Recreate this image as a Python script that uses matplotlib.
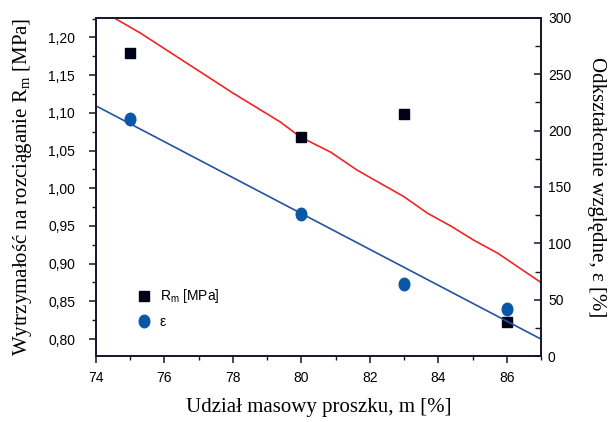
import numpy as np
import matplotlib.pyplot as plt
from matplotlib.ticker import MultipleLocator, FuncFormatter
from matplotlib.path import Path
from matplotlib.transforms import Affine2D

plt.rcParams['mathtext.fontset'] = 'custom'
plt.rcParams['mathtext.rm'] = 'Liberation Serif'
plt.rcParams['mathtext.sf'] = 'Liberation Sans'

# Data
m = [75, 80, 83, 86]                      # powder mass share [%]
rm = [1.180, 1.068, 1.099, 0.822]         # tensile strength [MPa]
eps = [210, 126, 64, 42]                  # relative strain [%]

# red trend line (left axis)
red_x = [74.30, 75.29, 78.01, 79.38, 79.97, 80.85, 81.63, 82.21, 82.99,
         83.68, 84.36, 85.04, 85.73, 87.0]
red_y = [1.232, 1.206, 1.126, 1.088, 1.068, 1.048, 1.024, 1.009, 0.989,
         0.967, 0.950, 0.931, 0.914, 0.875]
# blue trend line (right axis)
blue_x = [74, 87]
blue_y = [222, 15]

navy = '#14142a'
sq_col = '#000018'
dot_col = '#0a57a8'

fig = plt.figure(figsize=(6.12, 4.22), dpi=100)
ax = fig.add_axes([96/612, 66/422, 445/612, 338/422])
ax2 = ax.twinx()

ax.plot(red_x, red_y, color='#f02525', lw=1.2, zorder=2)
ax2.plot(blue_x, blue_y, color='#2452a0', lw=1.2, zorder=2)

ell = Path.unit_circle().transformed(Affine2D().scale(0.85, 1.0))
h1, = ax.plot(m, rm, ls='none', marker='s', ms=7.7, color=sq_col, zorder=3)
h2, = ax2.plot(m, eps, ls='none', marker=ell, ms=9, color=dot_col, zorder=3)

ax.set_xlim(74, 87)
ax.set_ylim(0.7775, 1.2258)
ax2.set_ylim(0, 300)

ax.xaxis.set_major_locator(MultipleLocator(2))
ax.xaxis.set_minor_locator(MultipleLocator(1))
ax.yaxis.set_major_locator(MultipleLocator(0.05))
ax.yaxis.set_minor_locator(MultipleLocator(0.025))
ax2.yaxis.set_major_locator(MultipleLocator(50))
ax2.yaxis.set_minor_locator(MultipleLocator(25))

ax.yaxis.set_major_formatter(FuncFormatter(lambda v, p: f"{v:.2f}".replace('.', ',')))

for a in (ax, ax2):
    for s in a.spines.values():
        s.set_color(navy)
        s.set_linewidth(1.2)

ax.tick_params(axis='x', which='major', direction='out', length=5, width=1.1,
               color=navy, labelsize=10, pad=6)
ax.tick_params(axis='y', which='major', direction='out', length=5, width=1.1,
               color=navy, labelsize=10, pad=10)
ax.tick_params(axis='both', which='minor', direction='out', length=3, width=1.0, color=navy)
ax2.tick_params(axis='y', which='major', direction='in', length=5, width=1.1,
                color=navy, labelsize=10, pad=5)
ax2.tick_params(axis='y', which='minor', direction='in', length=4, width=1.0, color=navy)

for lab in ax.get_xticklabels() + ax.get_yticklabels() + ax2.get_yticklabels():
    lab.set_fontfamily('Liberation Sans')

ax.set_xlabel("Udział masowy proszku, m [%]", family='Liberation Serif',
              size=15, labelpad=9)
ax.set_ylabel(r"Wytrzymałość na rozciąganie R$_\mathrm{m}$ [MPa]",
              family='Liberation Serif', size=15, labelpad=10)
ax2.set_ylabel("Odkształcenie względne, ε [%]", family='Liberation Serif',
               size=15, rotation=270, labelpad=25)

leg = ax.legend([h1, h2], [r"R$_\mathsf{m}$ [MPa]", "ε"], loc='upper left',
                bbox_to_anchor=(0.065, 0.24), frameon=False, handlelength=1.0,
                handletextpad=0.6, labelspacing=0.7,
                prop=dict(family='Liberation Sans', size=10))

fig.savefig('out.png', dpi=100)
